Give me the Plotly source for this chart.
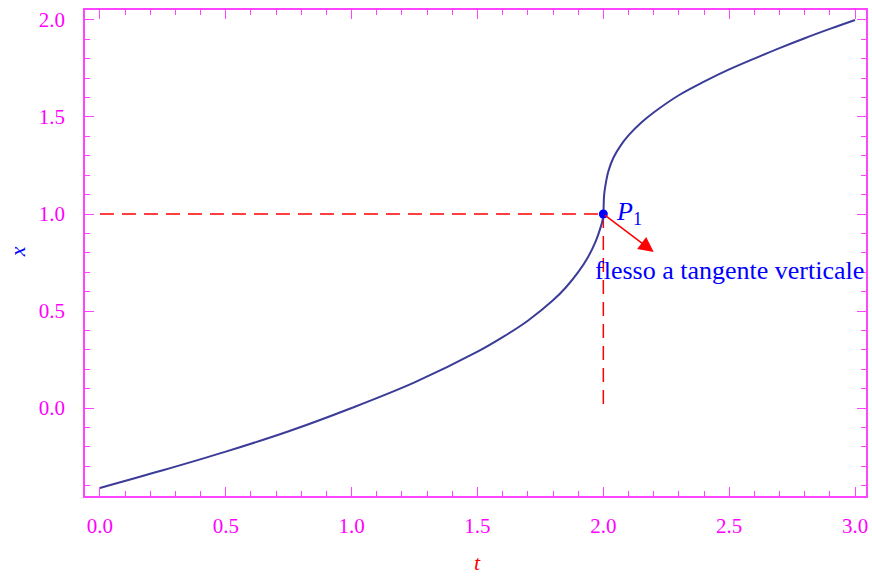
import plotly.graph_objects as go

# Solution curve x(t) sampled along its path
t_vals = [0.0, 0.25, 0.5, 0.75, 1.0, 1.25, 1.5, 1.6, 1.7, 1.8, 1.85, 1.9,
          1.94, 1.97, 1.99, 1.997, 2.0, 2.003, 2.008, 2.02, 2.04, 2.07, 2.1,
          2.15, 2.2, 2.3, 2.4, 2.5, 2.6, 2.7, 2.8, 2.9, 3.0]
x_vals = [-0.412, -0.321, -0.225, -0.12, 0.0, 0.132, 0.29, 0.365, 0.45, 0.555,
          0.62, 0.70, 0.78, 0.86, 0.935, 0.97, 1.0, 1.095, 1.145, 1.22, 1.29,
          1.355, 1.405, 1.47, 1.523, 1.612, 1.682, 1.745, 1.801, 1.855, 1.906,
          1.954, 2.0]

# Inflection point with vertical tangent
p1_t, p1_x = 2.0, 1.0
arrow_tip = (2.2, 0.804)

x_ticks = [0.0, 0.5, 1.0, 1.5, 2.0, 2.5, 3.0]
y_ticks = [0.0, 0.5, 1.0, 1.5, 2.0]

MAGENTA = "#ff00ff"
FRAME = "#ff44ff"
SERIF = "Liberation Serif, Times New Roman, serif"

fig = go.Figure()

# dashed guides to the axes
fig.add_trace(go.Scatter(x=[0.0, p1_t], y=[p1_x, p1_x], mode="lines",
                         line=dict(color="#ff0000", width=1.5, dash="14px,8px"),
                         hoverinfo="skip", showlegend=False))
fig.add_trace(go.Scatter(x=[p1_t, p1_t], y=[p1_x, 0.0], mode="lines",
                         line=dict(color="#ff0000", width=1.5, dash="14px,8px"),
                         hoverinfo="skip", showlegend=False))

fig.add_trace(go.Scatter(x=t_vals, y=x_vals, mode="lines",
                         line=dict(color="#3b3b98", width=2, shape="spline", smoothing=1.0),
                         showlegend=False))

fig.add_trace(go.Scatter(x=[p1_t], y=[p1_x], mode="markers",
                         marker=dict(color="#0000ff", size=9),
                         showlegend=False))

axis_common = dict(
    showline=True, linecolor=FRAME, linewidth=1.5, mirror="allticks",
    ticks="inside", ticklen=9, tickwidth=1.2, tickcolor=FRAME,
    showgrid=False, zeroline=False,
    tickfont=dict(family=SERIF, size=21, color=MAGENTA),
    tickformat=".1f",
    minor=dict(ticks="inside", ticklen=5, tickwidth=1, tickcolor=FRAME, dtick=0.1, showgrid=False),
)

fig.update_xaxes(range=[-0.0594, 3.0436], tickvals=x_ticks, ticklabelstandoff=10, **axis_common)
fig.update_yaxes(range=[-0.4536, 2.0515], tickvals=y_ticks, ticklabelstandoff=14, **axis_common)

annotations = [
    dict(x=arrow_tip[0], y=arrow_tip[1], ax=p1_t, ay=p1_x, xref="x", yref="y",
         axref="x", ayref="y", text="", showarrow=True, arrowhead=2,
         arrowsize=2.0, arrowwidth=1.5, arrowcolor="#ff0000"),
    dict(x=2.041, y=1.005, xref="x", yref="y", xanchor="left", yanchor="middle",
         text="<i>P</i><sub>1</sub>", showarrow=False,
         font=dict(family=SERIF, size=26, color="#0000ff")),
    dict(x=2.50, y=0.711, xref="x", yref="y", xanchor="center", yanchor="middle",
         text="flesso a tangente verticale", showarrow=False,
         font=dict(family=SERIF, size=26, color="#0000ff")),
    dict(x=-0.0868, y=0.502, xref="paper", yref="paper", xanchor="center", yanchor="middle",
         text="<i>x</i>", showarrow=False, textangle=-90,
         font=dict(family=SERIF, size=22, color="#0000ff")),
    dict(x=0.502, y=-0.1666, xref="paper", yref="paper", xanchor="center", yanchor="bottom",
         text="<i>t</i>", showarrow=False,
         font=dict(family=SERIF, size=22, color="#ff0000")),
]

fig.update_layout(
    width=872, height=576,
    margin=dict(l=85, r=4, t=10, b=80),
    plot_bgcolor="white", paper_bgcolor="white",
    annotations=annotations,
    showlegend=False,
)

fig.write_html("out.html")
